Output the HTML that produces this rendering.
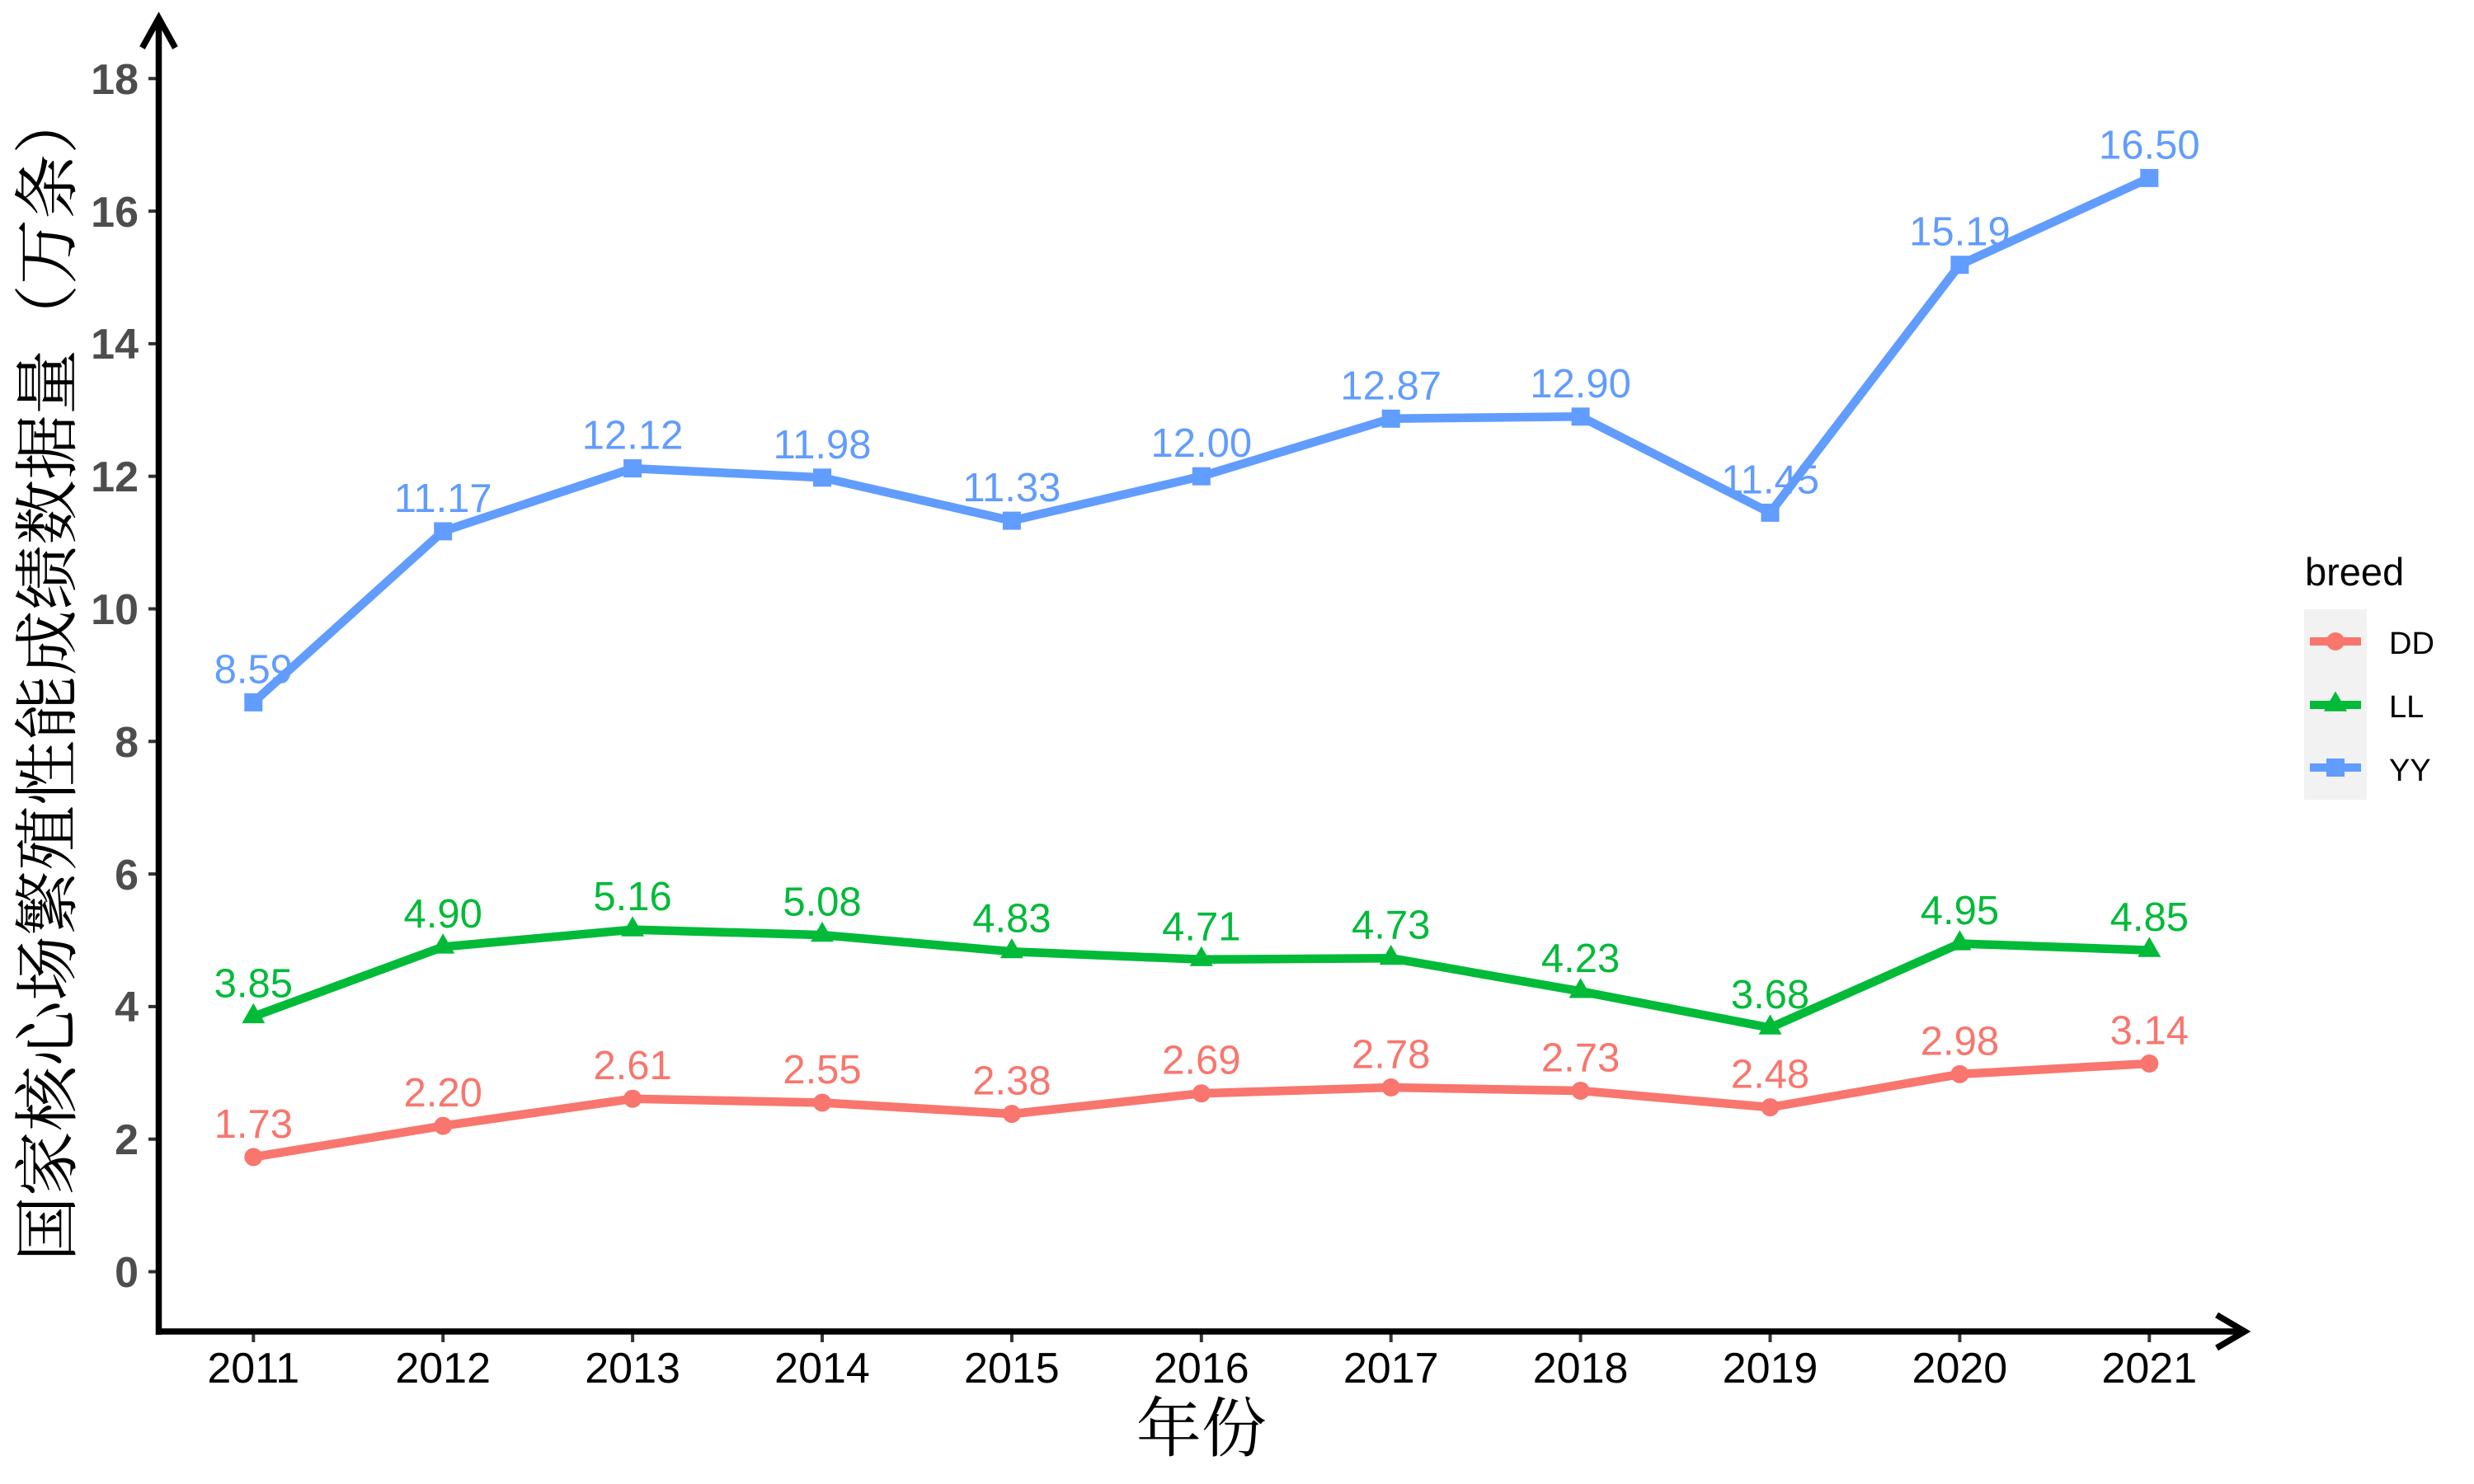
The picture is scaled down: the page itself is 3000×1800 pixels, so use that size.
<!DOCTYPE html>
<html><head><meta charset="utf-8"><style>
html,body{margin:0;padding:0;background:#fff;}
svg{display:block;}
.v{font-family:"Liberation Sans",Arial,sans-serif;font-size:49px;text-anchor:middle;}
</style></head><body>
<svg width="3000" height="1800" viewBox="0 0 3000 1800" xmlns="http://www.w3.org/2000/svg">
<rect width="3000" height="1800" fill="#fff"/>
<!-- y ticks -->
<g stroke="#333" stroke-width="4">
<line x1="180" y1="1542.5" x2="190" y2="1542.5"/><line x1="180" y1="1381.7" x2="190" y2="1381.7"/>
<line x1="180" y1="1220.9" x2="190" y2="1220.9"/><line x1="180" y1="1060.1" x2="190" y2="1060.1"/>
<line x1="180" y1="899.3" x2="190" y2="899.3"/><line x1="180" y1="738.5" x2="190" y2="738.5"/>
<line x1="180" y1="577.7" x2="190" y2="577.7"/><line x1="180" y1="416.9" x2="190" y2="416.9"/>
<line x1="180" y1="256.1" x2="190" y2="256.1"/><line x1="180" y1="95.3" x2="190" y2="95.3"/>
</g>
<g font-family="Liberation Sans,Arial,sans-serif" font-weight="bold" font-size="52" fill="#4d4d4d" text-anchor="end">
<text x="168" y="1561">0</text><text x="168" y="1400">2</text><text x="168" y="1239">4</text>
<text x="168" y="1079">6</text><text x="168" y="918">8</text><text x="168" y="757">10</text>
<text x="168" y="596">12</text><text x="168" y="435">14</text><text x="168" y="275">16</text>
<text x="168" y="114">18</text>
</g>
<!-- x ticks -->
<g stroke="#333" stroke-width="4">
<line x1="307.3" y1="1617" x2="307.3" y2="1628"/><line x1="537.2" y1="1617" x2="537.2" y2="1628"/>
<line x1="767.1" y1="1617" x2="767.1" y2="1628"/><line x1="997" y1="1617" x2="997" y2="1628"/>
<line x1="1226.9" y1="1617" x2="1226.9" y2="1628"/><line x1="1456.8" y1="1617" x2="1456.8" y2="1628"/>
<line x1="1686.7" y1="1617" x2="1686.7" y2="1628"/><line x1="1916.6" y1="1617" x2="1916.6" y2="1628"/>
<line x1="2146.5" y1="1617" x2="2146.5" y2="1628"/><line x1="2376.4" y1="1617" x2="2376.4" y2="1628"/>
<line x1="2606.3" y1="1617" x2="2606.3" y2="1628"/>
</g>
<g font-family="Liberation Sans,Arial,sans-serif" font-size="52" fill="#000" text-anchor="middle">
<text x="307.3" y="1677">2011</text><text x="537.2" y="1677">2012</text><text x="767.1" y="1677">2013</text>
<text x="997" y="1677">2014</text><text x="1226.9" y="1677">2015</text><text x="1456.8" y="1677">2016</text>
<text x="1686.7" y="1677">2017</text><text x="1916.6" y="1677">2018</text><text x="2146.5" y="1677">2019</text>
<text x="2376.4" y="1677">2020</text><text x="2606.3" y="1677">2021</text>
</g>
<!-- axes -->
<g stroke="#000" stroke-width="7.5" fill="none">
<line x1="192.5" y1="1619" x2="192.5" y2="22"/>
<line x1="189" y1="1615" x2="2722" y2="1615"/>
<polyline points="172.5,58 192.5,22 212.5,58" stroke-linejoin="miter"/>
<polyline points="2688,1595 2722,1615 2688,1635" stroke-linejoin="miter"/>
</g>
<!-- lines -->
<g fill="none" stroke-width="10.5" stroke-linejoin="round">
<polyline stroke="#F8766D" points="307.3,1403.4 537.2,1365.6 767.1,1332.7 997,1337.5 1226.9,1351.1 1456.8,1326.2 1686.7,1319 1916.6,1323 2146.5,1343.1 2376.4,1302.9 2606.3,1290"/>
<polyline stroke="#00BA38" points="307.3,1233 537.2,1148.5 767.1,1127.6 997,1134.1 1226.9,1154.2 1456.8,1163.8 1686.7,1162.2 1916.6,1202.4 2146.5,1246.6 2376.4,1144.5 2606.3,1152.6"/>
<polyline stroke="#619CFF" points="307.3,851.9 537.2,644.4 767.1,568.1 997,579.3 1226.9,631.6 1456.8,577.7 1686.7,507.8 1916.6,505.3 2146.5,621.9 2376.4,321.2 2606.3,215.9"/>
</g>
<!-- points DD -->
<g fill="#F8766D">
<circle cx="307.3" cy="1403.4" r="11"/><circle cx="537.2" cy="1365.6" r="11"/><circle cx="767.1" cy="1332.7" r="11"/>
<circle cx="997" cy="1337.5" r="11"/><circle cx="1226.9" cy="1351.1" r="11"/><circle cx="1456.8" cy="1326.2" r="11"/>
<circle cx="1686.7" cy="1319" r="11"/><circle cx="1916.6" cy="1323" r="11"/><circle cx="2146.5" cy="1343.1" r="11"/>
<circle cx="2376.4" cy="1302.9" r="11"/><circle cx="2606.3" cy="1290" r="11"/>
</g>
<!-- points LL -->
<g fill="#00BA38">
<polygon points="307.3,1216.8 321.3,1241.1 293.3,1241.1"/>
<polygon points="537.2,1132.3 551.2,1156.6 523.2,1156.6"/>
<polygon points="767.1,1111.4 781.1,1135.7 753.1,1135.7"/>
<polygon points="997,1117.9 1011,1142.2 983,1142.2"/>
<polygon points="1226.9,1138 1240.9,1162.3 1212.9,1162.3"/>
<polygon points="1456.8,1147.6 1470.8,1171.9 1442.8,1171.9"/>
<polygon points="1686.7,1146 1700.7,1170.3 1672.7,1170.3"/>
<polygon points="1916.6,1186.2 1930.6,1210.5 1902.6,1210.5"/>
<polygon points="2146.5,1230.4 2160.5,1254.7 2132.5,1254.7"/>
<polygon points="2376.4,1128.3 2390.4,1152.6 2362.4,1152.6"/>
<polygon points="2606.3,1136.4 2620.3,1160.7 2592.3,1160.7"/>
</g>
<!-- points YY -->
<g fill="#619CFF">
<rect x="296.3" y="840.9" width="22" height="22"/><rect x="526.2" y="633.4" width="22" height="22"/>
<rect x="756.1" y="557.1" width="22" height="22"/><rect x="986" y="568.3" width="22" height="22"/>
<rect x="1215.9" y="620.6" width="22" height="22"/><rect x="1445.8" y="566.7" width="22" height="22"/>
<rect x="1675.7" y="496.8" width="22" height="22"/><rect x="1905.6" y="494.3" width="22" height="22"/>
<rect x="2135.5" y="610.9" width="22" height="22"/><rect x="2365.4" y="310.2" width="22" height="22"/>
<rect x="2595.3" y="204.9" width="22" height="22"/>
</g>
<!-- labels -->
<g class="v" fill="#F8766D">
<text x="307.3" y="1379.9">1.73</text><text x="537.2" y="1342.1">2.20</text><text x="767.1" y="1309.2">2.61</text>
<text x="997" y="1314">2.55</text><text x="1226.9" y="1327.6">2.38</text><text x="1456.8" y="1302.7">2.69</text>
<text x="1686.7" y="1295.5">2.78</text><text x="1916.6" y="1299.5">2.73</text><text x="2146.5" y="1319.6">2.48</text>
<text x="2376.4" y="1279.4">2.98</text><text x="2606.3" y="1266.5">3.14</text>
</g>
<g class="v" fill="#00BA38">
<text x="307.3" y="1209.5">3.85</text><text x="537.2" y="1125">4.90</text><text x="767.1" y="1104.1">5.16</text>
<text x="997" y="1110.6">5.08</text><text x="1226.9" y="1130.7">4.83</text><text x="1456.8" y="1140.3">4.71</text>
<text x="1686.7" y="1138.7">4.73</text><text x="1916.6" y="1178.9">4.23</text><text x="2146.5" y="1223.1">3.68</text>
<text x="2376.4" y="1121">4.95</text><text x="2606.3" y="1129.1">4.85</text>
</g>
<g class="v" fill="#619CFF">
<text x="307.3" y="828.4">8.59</text><text x="537.2" y="620.9">11.17</text><text x="767.1" y="544.6">12.12</text>
<text x="997" y="555.8">11.98</text><text x="1226.9" y="608.1">11.33</text><text x="1456.8" y="554.2">12.00</text>
<text x="1686.7" y="484.3">12.87</text><text x="1916.6" y="481.8">12.90</text><text x="2146.5" y="598.4">11.45</text>
<text x="2376.4" y="297.7">15.19</text><text x="2606.3" y="192.4">16.50</text>
</g>
<!-- axis titles -->
<text x="1456.8" y="1760" font-family="Liberation Serif,Noto Serif CJK SC,serif" font-size="79" text-anchor="middle" fill="#000" textLength="158" lengthAdjust="spacingAndGlyphs">年份</text>
<text transform="translate(85,819) rotate(-90)" x="0" y="0" font-family="Liberation Serif,Noto Serif CJK SC,serif" font-size="79" text-anchor="middle" fill="#000" textLength="1422" lengthAdjust="spacingAndGlyphs">国家核心场繁殖性能成绩数据量（万条）</text>
<!-- legend -->
<text x="2795" y="710" font-family="Liberation Sans,Arial,sans-serif" font-size="47" fill="#000">breed</text>
<rect x="2794" y="739" width="76" height="231" fill="#F2F2F2"/>
<line x1="2801" y1="778" x2="2863" y2="778" stroke="#F8766D" stroke-width="10"/>
<circle cx="2832" cy="778" r="11" fill="#F8766D"/>
<line x1="2801" y1="855" x2="2863" y2="855" stroke="#00BA38" stroke-width="10"/>
<polygon points="2832,838.5 2846,862.8 2818,862.8" fill="#00BA38"/>
<line x1="2801" y1="931" x2="2863" y2="931" stroke="#619CFF" stroke-width="10"/>
<rect x="2821" y="920" width="22" height="22" fill="#619CFF"/>
<g font-family="Liberation Sans,Arial,sans-serif" font-size="38" fill="#000">
<text x="2897" y="793">DD</text><text x="2897" y="870">LL</text><text x="2897" y="947">YY</text>
</g>
</svg>
</body></html>
